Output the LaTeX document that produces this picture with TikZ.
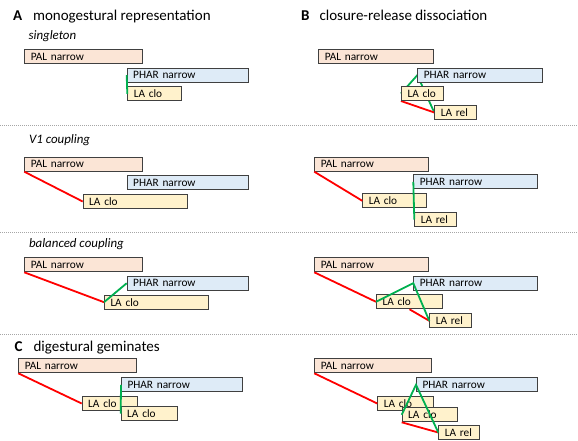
\documentclass[tikz,border=0pt]{standalone}
\usepackage{fontspec}
\setmainfont{Carlito}
\usetikzlibrary{backgrounds}
\definecolor{palfill}{HTML}{FBE5D6}
\definecolor{pharfill}{HTML}{DEEBF7}
\definecolor{lafill}{HTML}{FFF2CC}
\definecolor{boxline}{HTML}{404040}
\definecolor{ingreen}{HTML}{00B050}
\definecolor{antired}{HTML}{FF0000}
\definecolor{sepgray}{HTML}{A6A6A6}
\newcommand{\bh}{14pt}

\begin{document}
\begin{tikzpicture}[x=1pt, y=-1pt,
    gest/.style={draw=boxline, line width=1pt, anchor=north west, minimum height=\bh, inner xsep=6pt, inner ysep=0pt, align=left, font=\fontsize{11.3}{12}\selectfont},
    pal/.style={gest, fill=palfill},
    phar/.style={gest, fill=pharfill},
    la/.style={gest, fill=lafill},
    inphase/.style={ingreen, line width=1.8pt},
    antiphase/.style={antired, line width=1.8pt},
    sep/.style={sepgray, line width=0.8pt, dash pattern=on 1pt off 1pt},
    head/.style={anchor=base west, font=\fontsize{15}{18}\selectfont},
    sub/.style={anchor=base west, font=\fontsize{12.9}{15}\selectfont\itshape}]
    \useasboundingbox (0,0) rectangle (578,440);

    % headings
    \node[head] (hA) at (9.5,20.7) {\bfseries A};
    \node[head] (tA) at (29.5,20.7) {monogestural representation};
    \node[head] (hB) at (297.5,20.7) {\bfseries B};
    \node[head] (tB) at (316,20.7) {closure-release dissociation};
    \node[head] (hC) at (11,351.7) {\bfseries C};
    \node[head] (tC) at (30,351.7) {digestural geminates};
    \node[sub] (sA1) at (25,39.2) {singleton};
    \node[sub] (sA2) at (25.5,143.5) {V1 coupling};
    \node[sub] (sA3) at (25.5,247.5) {balanced coupling};

    \draw[sep] (0,125) -- (578,125);
    \draw[sep] (0,232.7) -- (578,232.7);
    \draw[sep] (0,334) -- (578,334);

    % singleton
    \node[pal, text width=105.4pt] (palA1) at (24.3,49.3) {PAL narrow};
    \node[phar, text width=109pt] (pharA1) at (126.7,67.7) {PHAR narrow};
    \node[la, text width=41.4pt] (cloA1) at (127.3,86.3) {LA clo};
    \draw[inphase] (pharA1.west) -- (cloA1.west);

    \node[pal, text width=102.4pt] (palB1) at (318.3,49.3) {PAL narrow};
    \node[phar, text width=112.4pt] (pharB1) at (417.3,67.7) {PHAR narrow};
    \node[la, text width=29.7pt] (cloB1) at (401,86) {LA clo};
    \node[la, text width=29.4pt] (relB1) at (434.3,105) {LA rel};
    \begin{scope}[on background layer]
        \draw[inphase] (cloB1.west) -- (pharB1.west) -- (relB1.west);
        \draw[antiphase] (cloB1.south west) -- (relB1.west);
    \end{scope}

    % V1 coupling
    \node[pal, text width=105.4pt] (palA2) at (24.3,156.7) {PAL narrow};
    \node[phar, text width=109pt] (pharA2) at (126.7,175) {PHAR narrow};
    \node[la, text width=92pt] (cloA2) at (82.7,194) {LA clo};
    \draw[antiphase] (palA2.south west) -- (cloA2.west);

    \node[pal, text width=102pt] (palB2) at (314.3,156.7) {PAL narrow};
    \node[phar, text width=111.4pt] (pharB2) at (413.3,174.3) {PHAR narrow};
    \node[la, text width=51.7pt] (cloB2) at (362.3,193.3) {LA clo};
    \node[la, text width=29.4pt] (relB2) at (414.3,212) {LA rel};
    \draw[antiphase] (palB2.south west) -- (cloB2.west);
    \draw[inphase] (pharB2.west) -- (relB2.west);

    % balanced coupling
    \node[pal, text width=105.4pt] (palA3) at (24.3,257.3) {PAL narrow};
    \node[phar, text width=109pt] (pharA3) at (126.7,275.7) {PHAR narrow};
    \node[la, text width=92.3pt] (cloA3) at (104,294.7) {LA clo};
    \draw[antiphase] (palA3.south west) -- (cloA3.west);
    \draw[inphase] (cloA3.west) -- (pharA3.west);

    \node[pal, text width=101.4pt] (palB3) at (314.3,257.3) {PAL narrow};
    \node[phar, text width=111.4pt] (pharB3) at (413.3,275.7) {PHAR narrow};
    \node[la, text width=54pt] (cloB3) at (376,294.3) {LA clo};
    \node[la, text width=29.4pt] (relB3) at (429.3,313.3) {LA rel};
    \draw[antiphase] (palB3.south west) -- (cloB3.west);
    \draw[antiphase] (cloB3.south) -- (relB3.west);
    \draw[inphase] (cloB3.west) -- (pharB3.west) -- (relB3.west);

    % digestural geminates
    \node[pal, text width=105.7pt] (palC1) at (18.3,358.3) {PAL narrow};
    \node[phar, text width=108.7pt] (pharC1) at (121,377.3) {PHAR narrow};
    \node[la, text width=43.6pt] (cloC1) at (81.7,396) {LA clo};
    \node[la, text width=44pt] (cloC2) at (120.7,406) {LA clo};
    \draw[antiphase] (palC1.south west) -- (cloC1.west);
    \draw[inphase] (pharC1.west) -- (cloC2.west);

    \node[pal, text width=104.7pt] (palC2) at (314.3,358.3) {PAL narrow};
    \node[phar, text width=108.7pt] (pharC2) at (416,377.3) {PHAR narrow};
    \node[la, text width=44pt] (cloC3) at (377.3,396) {LA clo};
    \node[la, text width=43.6pt] (cloC4) at (401.7,407.3) {LA clo};
    \node[la, text width=29pt] (relC) at (438.3,425) {LA rel};
    \draw[antiphase] (palC2.south west) -- (cloC3.west);
    \draw[antiphase] (cloC4.south west) -- (relC.west);
    \draw[inphase] (cloC4.west) -- (pharC2.west) -- (relC.west);

\end{tikzpicture}
\end{document}
